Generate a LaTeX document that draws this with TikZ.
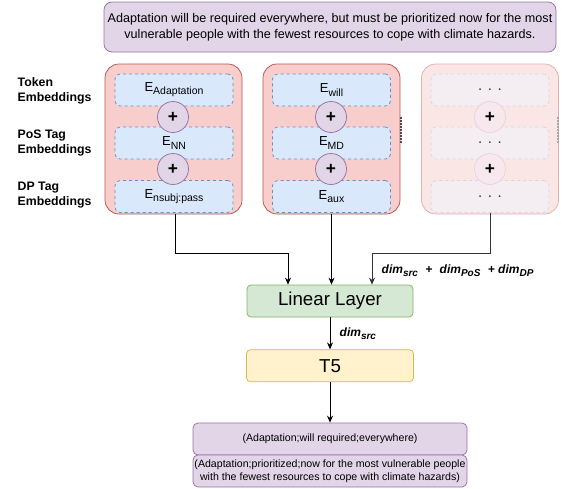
\documentclass[tikz,border=0pt]{standalone}
\usepackage{fontspec}
\setmainfont{Liberation Sans}
\usetikzlibrary{positioning,arrows.meta}

\definecolor{purpfill}{HTML}{E1D5E7}
\definecolor{purpline}{HTML}{9673A6}
\definecolor{redfill}{HTML}{F8CECC}
\definecolor{redline}{HTML}{B85450}
\definecolor{bluefill}{HTML}{DAE8FC}
\definecolor{blueline}{HTML}{6C8EBF}
\definecolor{greenfill}{HTML}{D5E8D4}
\definecolor{greenline}{HTML}{82B366}
\definecolor{yellowfill}{HTML}{FFF2CC}
\definecolor{yellowline}{HTML}{D6B656}

\newcommand{\embsub}[1]{\raisebox{-0.45ex}{\fontsize{10.5}{12}\selectfont #1}}
\newcommand{\dimsub}[1]{\raisebox{-0.5ex}{\fontsize{10}{12}\selectfont #1}}

\begin{document}
\begin{tikzpicture}[x=1pt,y=-1pt,line width=0.75pt,
	column/.style={draw=redline,fill=redfill,rounded corners=14pt,minimum width=137pt,minimum height=150pt},
	fadecolumn/.style={column,draw=redline!45,fill=redfill!50},
	emb/.style={draw=blueline,fill=bluefill,dashed,rounded corners=5pt,minimum width=118pt,minimum height=32pt,inner sep=0pt,font=\fontsize{13}{15}\selectfont},
	fademb/.style={emb,draw=blueline!50!redfill!50,fill=bluefill!50!redfill!50,text=black!80,font=\fontsize{15}{15}\selectfont},
	plus/.style={circle,draw=purpline,fill=purpfill,minimum size=31pt,inner sep=0pt,font=\LARGE\bfseries},
	fadeplus/.style={plus,draw=purpline!40!redfill!50,fill=purpfill!50!redfill!50},
	rowname/.style={anchor=west,align=left,font=\fontsize{12.3}{14.5}\selectfont\bfseries},
	block/.style={rounded corners=4pt,minimum width=166pt,minimum height=32pt,font=\fontsize{18.7}{20}\selectfont},
	outbox/.style={draw=purpline,fill=purpfill,rounded corners=5pt,minimum width=274pt,minimum height=32pt,align=center,inner sep=0pt,font=\fontsize{10.6}{12.6}\selectfont},
	arr/.style={-{Stealth[length=7pt,width=6pt]}},
	dimtext/.style={font=\fontsize{12}{14}\selectfont\bfseries\itshape}
]
\useasboundingbox (0,0) rectangle (564,488);

\node [draw=purpline,fill=purpfill,rounded corners=8pt,minimum width=452pt,minimum height=50pt,align=center,font=\fontsize{12.6}{15.5}\selectfont] (sent) at (330,27)
	{Adaptation will be required everywhere, but must be prioritized now for the most\\vulnerable people with the fewest resources to cope with climate hazards.};

\node [rowname] (tokname) at (14,91) {Token\\Embeddings};
\node [rowname] (posname) at (14,143) {PoS Tag\\Embeddings};
\node [rowname] (dpname) at (14,195) {DP Tag\\Embeddings};

% first word
\node [column] (c1) at (173.5,139) {};
\node [emb] (t1) at (174,90) {E\embsub{Adaptation}};
\node [emb] (p1) at (174,143) {E\embsub{NN}};
\node [emb] (d1) at (174,196.5) {E\embsub{nsubj:pass}};
\node [plus] (s1a) at (173,117) {+};
\node [plus] (s1b) at (173,169) {+};

% second word
\node [column] (c2) at (331.5,139) {};
\draw [dashed,line width=1.2pt,dash pattern=on 1.5pt off 1.5pt,black!70] (401,117) -- (401,143);
\node [emb] (t2) at (331.5,90) {E\embsub{will}};
\node [emb] (p2) at (331.5,143) {E\embsub{MD}};
\node [emb] (d2) at (331.5,196.5) {E\embsub{aux}};
\node [plus] (s2a) at (331,117) {+};
\node [plus] (s2b) at (331,169) {+};

% remaining words
\node [fadecolumn] (c3) at (490,139) {};
\draw [dashed,line width=1.2pt,dash pattern=on 1.5pt off 1.5pt,black!35] (558,117) -- (558,143);
\node [fademb] (t3) at (490,90) {. . .};
\node [fademb] (p3) at (490,143) {. . .};
\node [fademb] (d3) at (490,196.5) {. . .};
\node [fadeplus] (s3a) at (490,117) {+};
\node [fadeplus] (s3b) at (490,169) {+};

\node [block,draw=greenline,fill=greenfill] (lin) at (330,301) {Linear Layer};
\node [block,draw=yellowline,fill=yellowfill,below=32pt of lin,minimum width=167pt] (t5) {T5};
\node [outbox] (out1) at (330,439) {(Adaptation;will required;everywhere)};
\node [outbox] (out2) at (330,471) {(Adaptation;prioritized;now for the most vulnerable people\\with the fewest resources to cope with climate hazards)};

\coordinate (j1) at (288,253);
\coordinate (j3) at (372,253);
\draw [arr] (c1.south -| 175,0) |- (j1) -- (j1 |- lin.north);
\draw [arr] (c2.south) -- (c2.south |- lin.north);
\draw [arr,black!80] (d3.south) |- (j3) -- (j3 |- lin.north);
\node [dimtext,anchor=west] (dimall) at (378,271) {dim\dimsub{src}\,\, +\,\, dim\dimsub{PoS}\,\, + dim\dimsub{DP}};

\draw [arr] (lin) -- (t5);
\node [dimtext,anchor=west] (dimsrc) at (336,334) {dim\dimsub{src}};
\draw [arr] (t5) -- (out1);
\end{tikzpicture}
\end{document}
